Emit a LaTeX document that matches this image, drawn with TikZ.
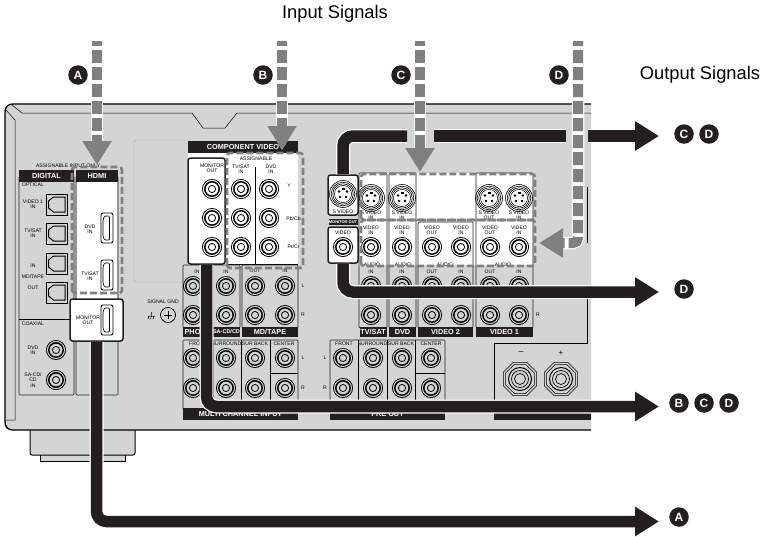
\documentclass[tikz,border=0pt]{standalone}
\usepackage{fontspec}
\setmainfont{Liberation Sans}
\usepackage{tikz}
\usetikzlibrary{arrows.meta}
\definecolor{chassisgray}{HTML}{D3D4D4}
\definecolor{dashgray}{HTML}{808080}
\definecolor{inkblack}{HTML}{231F20}
\begin{document}
\begin{tikzpicture}[
    x=1pt,y=-1pt,
    lab/.style={font=\fontsize{5.1}{5.5}\selectfont,align=center,inner sep=0pt},
    hdr/.style={fill=inkblack,text=white,font=\fontsize{7.3}{8}\bfseries\selectfont,inner sep=0pt,minimum height=11pt},
    hdrhigh/.style={hdr,minimum height=12pt},
    bubble/.style={circle,fill=inkblack,text=white,font=\fontsize{12}{12}\bfseries\selectfont,inner sep=0pt,minimum size=19.5pt},
    signal/.style={font=\fontsize{18.3}{20}\selectfont,inner sep=0pt},
    bx/.style={draw=inkblack,line width=0.6pt,rounded corners=1pt},
    monbox/.style={draw=inkblack,fill=white,line width=1.5pt,rounded corners=2.5pt,inner sep=0pt},
    dashbox/.style={draw=dashgray,line width=2.6pt,dash pattern=on 7pt off 3pt,rounded corners=3pt},
    inarrow/.style={draw=dashgray,line width=10pt,dash pattern=on 13pt off 4pt,dash phase=8pt,rounded corners=5pt,
      preaction={draw=white,line width=12.5pt,solid},
      -{Triangle[length=24pt,width=28pt]}},
    cable/.style={draw=inkblack,line width=11.5pt,rounded corners=10pt,
      preaction={draw=white,line width=14pt}},
    cableout/.style={cable,-{Triangle[length=24pt,width=28pt]}},
    rca/.pic={
      \draw[line width=0.8pt] (0,0) circle (9.6);
      \draw[line width=1.5pt] (0,0) circle (7.2);
      \draw[line width=0.8pt] (0,0) circle (3.6);
    },
    svideo/.pic={
      \foreach \r in {13.5,11.8,10.2} {\draw[line width=0.6pt] (0,0) circle (\r);}
      \fill[white] (0,0) circle (9.2);
      \draw[line width=0.5pt] (0,0) circle (8.6);
      \fill (-4,-2.5) circle (1.4) (4,-2.5) circle (1.4) (-3,3) circle (1.4) (3,3) circle (1.4);
      \fill (-1.5,-6) rectangle (1.5,-3.8);
    },
    optical/.pic={
      \draw[line width=1pt] (-10.5,-10.5) rectangle (10.5,10.5);
      \draw[line width=1pt] (8.5,-7.5) -- (-3,-7.5) -- (-8,-3.5) -- (-8,3.5) -- (-3,7.5) -- (8.5,7.5) -- cycle;
    },
    hdmiport/.pic={
      \draw[line width=0.9pt,rounded corners=2pt] (-6,-15) rectangle (6,15);
      \draw[line width=0.7pt,rounded corners=1pt] (-2.5,-12) -- (2.5,-12) -- (2.5,12) -- (-2.5,12) -- (-4,8) -- (-4,-8) -- cycle;
    },
    terminal/.pic={
      \draw[line width=0.6pt] (22.5:18) \foreach \a in {67.5,112.5,...,337.5} {-- (\a:18)} -- cycle;
      \draw[line width=0.6pt] (22.5:15.5) \foreach \a in {67.5,112.5,...,337.5} {-- (\a:15.5)} -- cycle;
      \draw[line width=1pt] (0,0) circle (11.5);
      \draw[line width=0.7pt] (0,0) circle (8.5);
      \draw[line width=0.7pt] (0,0) circle (5.5);
    }
  ]
  \useasboundingbox (0,0) rectangle (762,536);

  % feet
  \draw[fill=chassisgray,line width=0.6pt] (40,450) -- (40,461) -- (125,461) -- (125,450) -- cycle;
  \draw[fill=chassisgray,line width=1pt,rounded corners=2pt] (30,425) -- (30,455) -- (135,455) -- (135,425) -- cycle;

  % chassis
  \fill[chassisgray] (591,104) -- (13,104) .. controls (8,104) and (5,107) .. (5,112) -- (5,422) .. controls (5,427) and (8,430) .. (13,430) -- (591,430) -- cycle;
  \draw[line width=1.4pt] (591,104) -- (13,104) .. controls (8,104) and (5,107) .. (5,112) -- (5,422) .. controls (5,427) and (8,430) .. (13,430) -- (591,430);
  \draw[line width=0.5pt] (12,105) -- (22,113) -- (192,113) -- (203,128) -- (225,128) -- (237,113) -- (591,113);
  \draw[line width=0.5pt] (6,110) -- (15,120) -- (15,420) -- (5,420);
  \draw[line width=0.4pt,gray!70,rounded corners=2pt] (186,140) -- (134,140) -- (134,282) -- (183,282);
  \draw[line width=0.6pt] (587,187) -- (587,243);
  \draw[line width=0.6pt] (587,298) -- (587,343) -- (494,343) -- (494,413);

  % digital and hdmi panel
  \draw[bx] (19,176) rectangle (74,395);
  \draw[bx] (76,176) rectangle (118,395);
  \fill[white] (77,182) rectangle (117,300);
  \draw[line width=0.5pt] (19,319) -- (74,319);
  \node[hdr,minimum width=55pt,minimum height=12pt] (digital) at (46.5,176) {DIGITAL};
  \node[hdr,minimum width=42pt,minimum height=12pt] (hdmi) at (97,176) {HDMI};
  \node[lab] (assignA) at (68,166) {ASSIGNABLE INPUT ONLY};
  \node[lab] (optical) at (33,185) {OPTICAL};
  \node[lab] (video1) at (33,204) {VIDEO 1\\IN};
  \node[lab] (tvsatd) at (33,233) {TV/SAT\\IN};
  \node[lab] (optin) at (33,266) {IN};
  \node[lab] (mdtapd) at (33,277) {MD/TAPE};
  \node[lab] (optout) at (33,288) {OUT};
  \node[lab] (coaxial) at (33,324) {COAXIAL};
  \node[lab] (dvdc) at (33,350) {DVD\\IN};
  \node[lab] (sacdc) at (33,380) {SA-CD/\\CD\\IN};
  \node[lab] (dvdh) at (90,229) {DVD\\IN};
  \node[lab] (tvsath) at (90,276) {TV/SAT\\IN};
  \foreach \y in {204.5,233.5,263.5,292.5} {\pic at (56.5,\y) {optical};}
  \foreach \y in {350,380} {\pic at (56,\y) {rca};}
  \foreach \y in {228,275} {\pic at (107,\y) {hdmiport};}
  \node[monbox,minimum width=53pt,minimum height=42pt] (hdmiout) at (96.5,320) {};
  \node[lab] (hdmioutl) at (88,320) {MONITOR\\OUT};
  \pic at (107,320) {hdmiport};

  % signal ground
  \node[lab] (gndl) at (163,302) {SIGNAL GND};
  \draw[line width=0.5pt] (148,316) -- (155,316) (151.5,312) -- (151.5,316) (149,316) -- (148,319) (151.5,316) -- (150.5,319) (154,316) -- (153,319);
  \draw[line width=0.8pt] (168,315) circle (7.5);
  \draw[line width=0.8pt] (164,315) -- (172,315) (168,311) -- (168,319);

  % component video
  \fill[white] (188,153) rectangle (298,265);
  \node[hdrhigh,minimum width=110pt] (compv) at (243,147) {COMPONENT VIDEO};
  \draw[line width=0.6pt] (255,167) -- (255,264);
  \draw[line width=0.6pt] (226,264) -- (298,264);
  \node[monbox,minimum width=37pt,minimum height=106pt] (compout) at (206.5,211) {};
  \node[lab] (compoutl) at (212,168) {MONITOR\\OUT};
  \node[lab] (assignB) at (256,159) {ASSIGNABLE};
  \node[lab] (tvsatc) at (241,169) {TV/SAT\\IN};
  \node[lab] (dvdk) at (271,169) {DVD\\IN};
  \node[lab] (compy) at (289,186) {Y};
  \node[lab] (comppb) at (293.5,219) {Pb/Cb};
  \node[lab] (comppr) at (293.5,247) {Pr/Cr};
  \foreach \x in {212,241,269} {
    \foreach \y in {189,218,247} {\pic at (\x,\y) {rca};}
  }

  % phono, sa-cd, md/tape
  \draw[bx] (183,265) rectangle (213,328);
  \draw[bx] (213,265) rectangle (240,328);
  \draw[bx] (242,265) rectangle (298,328);
  \node[hdr,minimum width=30pt,minimum height=10pt] (phono) at (198,332) {PHONO};
  \node[hdr,minimum width=27pt,minimum height=10pt,font=\fontsize{5.5}{6}\bfseries\selectfont] (sacd) at (226.5,332) {SA-CD/CD};
  \node[hdr,minimum width=56pt,minimum height=10pt] (mdtape) at (270,332) {MD/TAPE};
  \node[lab] (inph) at (197,272) {IN};
  \node[lab] (insa) at (226,272) {IN};
  \node[lab] (outmd) at (255,271) {OUT};
  \node[lab] (inmd) at (285,271) {IN};
  \foreach \x in {193,226,255,285} {
    \foreach \y in {286,315} {\pic at (\x,\y) {rca};}
  }
  \node[lab] (lupper) at (303,286) {L};
  \node[lab] (rupper) at (303,315) {R};

  % multi channel input
  \draw[bx] (183,340) rectangle (298,410);
  \draw[line width=0.6pt] (213,340) -- (213,410) (241,340) -- (241,410) (270,340) -- (270,410) (270,373) -- (298,373);
  \node[hdr,minimum width=115pt,minimum height=12pt] (multi) at (240.5,414) {MULTI CHANNEL INPUT};
  \node[lab] (frontm) at (198,344) {FRONT};
  \node[lab] (surm) at (226.5,344) {SURROUND};
  \node[lab] (sbm) at (255,344) {SUR BACK};
  \node[lab] (cenm) at (284,344) {CENTER};
  \foreach \x in {193,226,255,285} {
    \foreach \y in {358,388} {\pic at (\x,\y) {rca};}
  }
  \node[lab] (lmulti) at (303,358) {L};
  \node[lab] (rmulti) at (303,388) {R};

  % pre out
  \draw[bx] (330,340) rectangle (445,410);
  \draw[line width=0.6pt] (358,340) -- (358,410) (387,340) -- (387,410) (415,340) -- (415,410) (415,373) -- (445,373);
  \node[hdr,minimum width=115pt,minimum height=12pt] (preout) at (387.5,414) {PRE OUT};
  \node[lab] (frontp) at (344,344) {FRONT};
  \node[lab] (surp) at (372.5,344) {SURROUND};
  \node[lab] (sbp) at (401,344) {SUR BACK};
  \node[lab] (cenp) at (431,344) {CENTER};
  \foreach \x in {343,373,402,431} {
    \foreach \y in {358,388} {\pic at (\x,\y) {rca};}
  }
  \node[lab] (lpre) at (325,358) {L};
  \node[lab] (rpre) at (325,388) {R};

  % speaker
  \fill[inkblack] (494,413) rectangle (591,420);
  \pic at (520,379) {terminal};
  \pic at (561,379) {terminal};
  \node[lab,font=\fontsize{9}{9}\selectfont] (minus) at (521,353) {--};
  \node[lab,font=\fontsize{8}{8}\selectfont] (plus) at (561,353) {+};

  % video section
  \fill[white] (359,173) rectangle (533,265);
  \draw[bx] (359,173) rectangle (387,328);
  \draw[bx] (389,173) rectangle (416,328);
  \draw[bx] (418,222) rectangle (473,328);
  \draw[bx] (476,173) rectangle (533,328);
  \node[hdr,minimum width=27pt,minimum height=10pt] (tvsatv) at (373,332) {TV/SAT};
  \node[hdr,minimum width=27pt,minimum height=10pt] (dvdv) at (402.5,332) {DVD};
  \node[hdr,minimum width=55pt,minimum height=10pt] (video2v) at (445.5,332) {VIDEO 2};
  \node[hdr,minimum width=57pt,minimum height=10pt] (video1v) at (504.5,332) {VIDEO 1};
  \foreach \x/\t [count=\i] in {371/IN,402/IN,489/OUT,519/IN} {
    \pic at (\x,198) {svideo};
    \node[lab] (sv\i) at (\x,215) {S VIDEO\\\t};
  }
  \foreach \x/\t [count=\i] in {371/IN,402/IN,432/OUT,461/IN,490/OUT,519/IN} {
    \pic at (\x,247) {rca};
    \pic at (\x,286) {rca};
    \pic at (\x,315) {rca};
    \node[lab] (vid\i) at (\x,230) {VIDEO\\\t};
    \node[lab] (aud\i) at (\x,271.5) {\t};
  }
  \node[lab] (audA) at (372,265) {AUDIO};
  \node[lab] (audB) at (403,265) {AUDIO};
  \node[lab] (audC) at (445,265) {AUDIO};
  \node[lab] (audD) at (503,265) {AUDIO};
  \node[lab] (rvideo) at (538,315) {R};

  % monitor out s-video and video
  \node[monbox,minimum width=30pt,minimum height=40pt] (svmon) at (343,195) {};
  \node[monbox,minimum width=30pt,minimum height=36pt] (vidmon) at (343,245) {};
  \pic at (343,194) {svideo};
  \node[lab] (svmonl) at (343,211.5) {S VIDEO};
  \node[hdr,minimum width=29pt,minimum height=6.5pt,font=\fontsize{4}{4}\bfseries\selectfont] (monbar) at (343,222) {MONITOR OUT};
  \node[lab] (vidmonl) at (343,233) {VIDEO};
  \pic at (343,247) {rca};

  % dashed boxes
  \draw[dashbox] (72,293) rectangle (122,167);
  \draw[dashbox] (227,268) rectangle (303,153);
  \draw[dashbox] (361,220) rectangle (535,174);
  \draw[dashbox] (361,266) rectangle (535,220);

  % output cables
  \coordinate (cutCl) at (407,136);
  \coordinate (cutCr) at (434,136);
  \coordinate (cutDl) at (566,136);
  \coordinate (cutDr) at (588,136);
  \coordinate (endCD) at (659,136);
  \coordinate (endD) at (659,292);
  \coordinate (endBCD) at (659,406.5);
  \coordinate (endA) at (659,521.5);
  \draw[cable] (svmon.north) |- (cutCl);
  \draw[cable] (cutCr) -- (cutDl);
  \draw[cableout] (cutDr) -- (endCD);
  \draw[cableout] (vidmon.south) |- (endD);
  \draw[cableout] (compout.south) |- (endBCD);
  \draw[cableout] (hdmiout.south) |- (endA);

  % input arrows
  \coordinate (inA) at (97,41);
  \coordinate (inB) at (282,41);
  \coordinate (inC) at (420,41);
  \coordinate (inD) at (578,41);
  \coordinate (tipA) at (97,165);
  \coordinate (tipB) at (282,150);
  \coordinate (tipC) at (420,172);
  \coordinate (tipD) at (539,243);
  \draw[inarrow] (inA) -- (tipA);
  \draw[inarrow] (inB) -- (tipB);
  \draw[inarrow] (inC) -- (tipC);
  \draw[inarrow] (inD) |- (tipD);

  % labels
  \node[signal] (insig) at (335,14) {Input Signals};
  \node[signal] (outsig) at (700,75) {Output Signals};
  \node[bubble] (bubA) at (78,75) {A};
  \node[bubble] (bubB) at (263,75) {B};
  \node[bubble] (bubC) at (401,75) {C};
  \node[bubble] (bubD) at (559,75) {D};
  \node[bubble] (outC1) at (684,134) {C};
  \node[bubble] (outD1) at (709,134) {D};
  \node[bubble] (outD2) at (684,289) {D};
  \node[bubble] (outB3) at (679,403) {B};
  \node[bubble] (outC3) at (704,403) {C};
  \node[bubble] (outD3) at (729,403) {D};
  \node[bubble] (outA4) at (679,517) {A};
\end{tikzpicture}
\end{document}
